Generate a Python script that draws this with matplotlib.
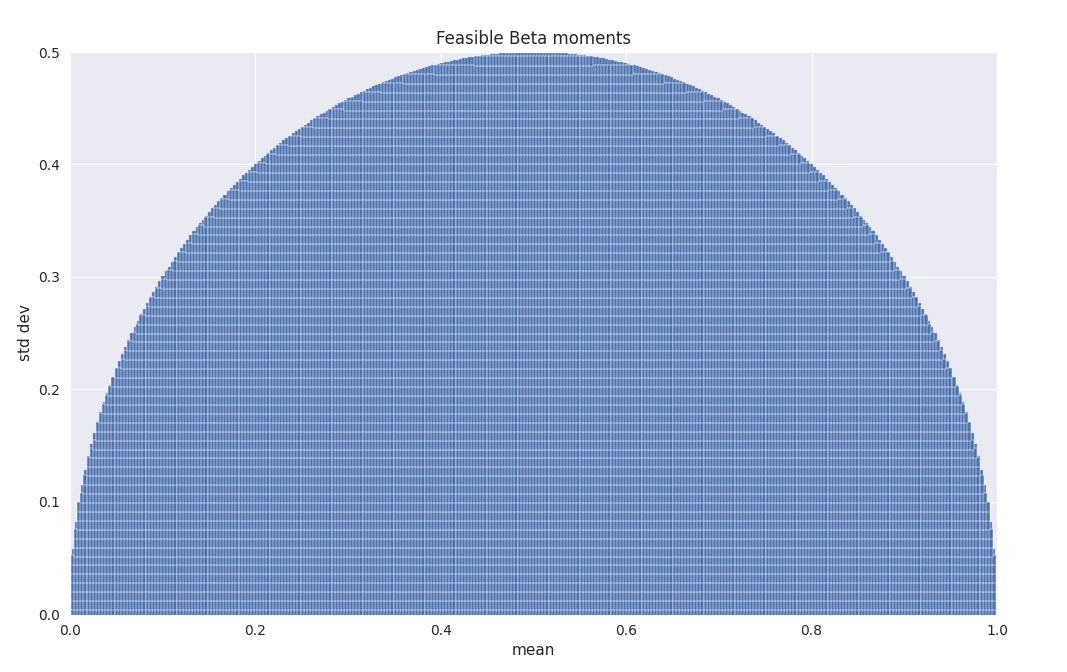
import matplotlib
matplotlib.use("Agg")
from matplotlib import pyplot as plt
import numpy as np
import seaborn as sns

sns.set_style("darkgrid")

# grid of candidate means and std devs
n_mean = 300
n_std = 64
means = np.linspace(0, 1, n_mean)
stds = np.linspace(0, 0.5, n_std)
dm = means[1] - means[0]
ds = stds[1] - stds[0]

# largest std dev a Beta distribution can have for a given mean
max_std = np.sqrt(means * (1 - means))

M, S = np.meshgrid(means, stds)
ok = S + ds / 2 <= np.sqrt(M * (1 - M))
m_ok = M[ok]
s_ok = S[ok]

blue = "#4C72B0"
cell = [(-0.17, -0.5), (0.17, -0.5), (0.17, 0.5), (-0.17, 0.5), (-0.17, -0.5)]

fig = plt.figure(figsize=(10.67, 6.72), dpi=100)
ax = fig.add_axes([0.0656, 0.0863, 0.8688, 0.8363])
ax.bar(means, max_std, width=dm, color=blue, edgecolor="#b8c6e3",
       linewidth=0.3, zorder=2)
ax.bar([0.0], [ds * 5.5], width=dm, color=blue, linewidth=0, zorder=2)
ax.scatter(m_ok, s_ok, marker=cell, s=44, color=blue,
           edgecolor="white", linewidths=0.35, zorder=3)
ax.set_xlim(0, 1)
ax.set_ylim(0, 0.5)
ax.set_title("Feasible Beta moments", fontsize=12)
ax.set_xlabel("mean", fontsize=11)
ax.set_ylabel("std dev", fontsize=11)
ax.tick_params(labelsize=10)

fig.savefig("out.png", dpi=100)
